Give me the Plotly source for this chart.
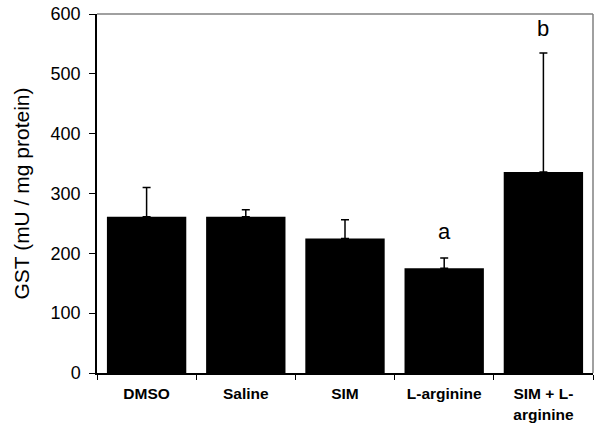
import plotly.graph_objects as go

categories = ["DMSO", "Saline", "SIM", "L-arginine", "SIM + L-<br>arginine"]
means = [261, 261, 225, 175, 336]
errors = [49, 12, 31, 17, 199]
letters = ["", "", "", "a", "b"]
letter_y = [0, 0, 0, 237, 575]

FONT = "Liberation Sans, Arial, sans-serif"

fig = go.Figure()
fig.add_trace(go.Bar(
    x=categories, y=means,
    marker=dict(color="black", line=dict(width=0)),
    width=0.8,
    error_y=dict(type="data", symmetric=False, array=errors,
                 arrayminus=[0] * len(errors), color="black",
                 thickness=1.5, width=4),
    showlegend=False,
))

for c, t, yy in zip(categories, letters, letter_y):
    if t:
        fig.add_annotation(x=c, y=yy, text=t, showarrow=False,
                           font=dict(size=22, color="black", family=FONT))

# gray top/right frame
fig.add_shape(type="line", xref="paper", yref="paper", x0=0, x1=1, y0=1, y1=1,
              line=dict(color="#808080", width=1.5))
fig.add_shape(type="line", xref="paper", yref="paper", x0=1, x1=1, y0=0, y1=1,
              line=dict(color="#808080", width=1.5))

fig.update_layout(
    width=600, height=429,
    margin=dict(l=97, r=7, t=14, b=56, autoexpand=False),
    plot_bgcolor="white", paper_bgcolor="white",
    font=dict(family=FONT, color="black"),
    bargap=0.2,
)
fig.update_xaxes(
    showline=True, linecolor="black", linewidth=1.5,
    ticks="outside", tickson="boundaries", ticklen=5, tickcolor="black",
    tickfont=dict(size=15.5, family=FONT, weight="bold"),
    ticklabelstandoff=6,
    showgrid=False,
)
fig.update_yaxes(
    range=[0, 600], dtick=100,
    showline=True, linecolor="black", linewidth=1.5,
    ticks="outside", ticklen=6, tickcolor="black",
    tickfont=dict(size=18),
    ticklabelstandoff=5,
    ticklabeloverflow="allow",
    showgrid=False, zeroline=False,
    title=dict(text="GST (mU / mg protein)", font=dict(size=21), standoff=15),
)

fig.write_html("out.html", config={"displayModeBar": False},
               post_script="document.body.style.margin='0';")
